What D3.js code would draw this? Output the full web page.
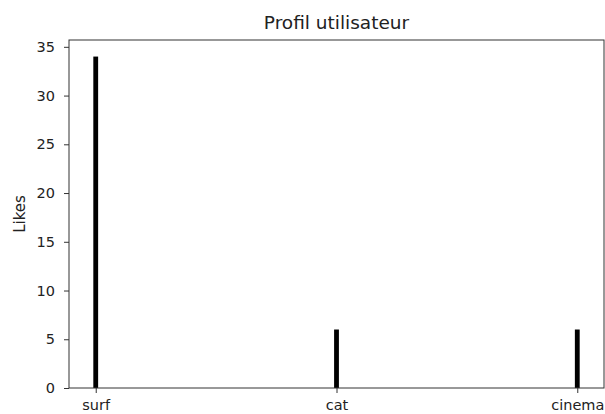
<!DOCTYPE html>
<html>
<head>
<meta charset="utf-8">
<script src="https://cdn.jsdelivr.net/npm/d3@7"></script>
<style>
  body { margin: 0; background: #fff; }
  text { font-family: "DejaVu Sans", sans-serif; fill: #222; }
</style>
</head>
<body>
<svg id="chart" width="605" height="414"></svg>
<script>
  // data
  var categories = ["surf", "cat", "cinema"];
  var likes = [34, 6, 6];
  var yTicks = [0, 5, 10, 15, 20, 25, 30, 35];
  var barWidth = 0.02; // in category units

  var svg = d3.select("#chart");
  var plotLeft = 69, plotRight = 604, plotTop = 40, plotBottom = 388;

  // matplotlib-like margins: 5% each side of the data extent
  var xmin = -barWidth / 2, xmax = categories.length - 1 + barWidth / 2;
  var pad = (xmax - xmin) * 0.05;
  var x = d3.scaleLinear().domain([xmin - pad, xmax + pad]).range([plotLeft, plotRight]);
  var y = d3.scaleLinear().domain([0, d3.max(likes) * 1.05]).range([plotBottom, plotTop]);

  // bars
  svg.selectAll("rect.bar").data(likes).enter().append("rect")
    .attr("class", "bar")
    .attr("x", function(d, i){ return x(i - barWidth / 2); })
    .attr("width", function(d, i){ return x(i + barWidth / 2) - x(i - barWidth / 2); })
    .attr("y", function(d){ return y(d); })
    .attr("height", function(d){ return y(0) - y(d); })
    .attr("fill", "#000");

  // axes
  var yAxis = d3.axisLeft(y).tickValues(yTicks).tickSize(5).tickPadding(9);
  var gy = svg.append("g").attr("transform", "translate(" + plotLeft + ",0)").call(yAxis);
  var xAxis = d3.axisBottom(x).tickValues(d3.range(categories.length))
    .tickFormat(function(d){ return categories[d]; }).tickSize(5).tickPadding(7);
  var gx = svg.append("g").attr("transform", "translate(0," + plotBottom + ")").call(xAxis);

  [gx, gy].forEach(function(g){
    g.select(".domain").remove();
    g.selectAll("line").attr("stroke", "#333");
    g.selectAll("text").style("font-size", "14.5px").style("font-family", "DejaVu Sans, sans-serif").attr("fill", "#222");
  });

  // frame
  svg.append("rect")
    .attr("x", plotLeft).attr("y", plotTop)
    .attr("width", plotRight - plotLeft).attr("height", plotBottom - plotTop)
    .attr("fill", "none").attr("stroke", "#333").attr("stroke-width", 1);

  // title and label
  svg.append("text")
    .attr("x", (plotLeft + plotRight) / 2).attr("y", 29)
    .attr("text-anchor", "middle")
    .style("font-size", "18.5px")
    .text("Profil utilisateur");

  svg.append("text")
    .attr("transform", "translate(25," + ((plotTop + plotBottom) / 2) + ") rotate(-90)")
    .attr("text-anchor", "middle")
    .style("font-size", "15px")
    .text("Likes");
</script>
</body>
</html>
